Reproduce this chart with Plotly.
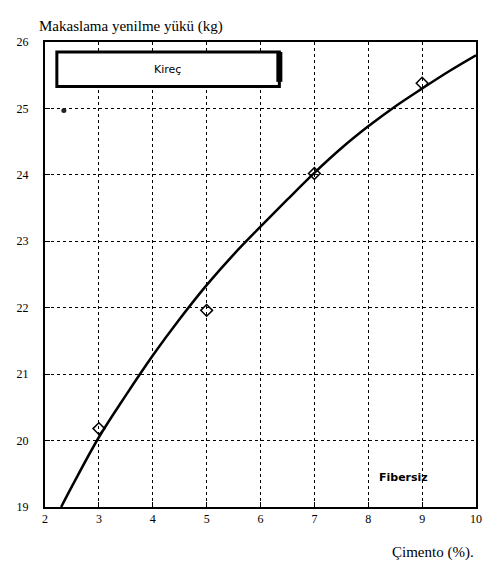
import plotly.graph_objects as go

# data
curve_x = [2.3, 2.5, 3, 3.5, 4, 4.5, 5, 5.5, 6, 6.5, 7, 7.5, 8, 8.5, 9, 9.5, 10]
curve_y = [19.0, 19.31, 20.05, 20.68, 21.28, 21.83, 22.34, 22.8, 23.22, 23.63, 24.03, 24.4, 24.73, 25.03, 25.3, 25.56, 25.8]
pts_x = [3, 5, 7, 9]
pts_y = [20.18, 21.96, 24.02, 25.38]
x_ticks = [2, 3, 4, 5, 6, 7, 8, 9, 10]
y_ticks = [19, 20, 21, 22, 23, 24, 25, 26]
legend_label = "Kireç"
series_note = "Fibersiz"

fig = go.Figure()
fig.add_trace(go.Scatter(x=curve_x, y=curve_y, mode="lines", line_shape="spline",
                         line=dict(color="black", width=2.5), showlegend=False))
fig.add_trace(go.Scatter(x=pts_x, y=pts_y, mode="markers",
                         marker=dict(symbol="diamond-open", size=9, color="black",
                                     line=dict(width=1.5, color="black")),
                         showlegend=False))
fig.add_trace(go.Scatter(x=[2.35], y=[24.97], mode="markers",
                         marker=dict(symbol="circle", size=5, color="#222"),
                         showlegend=False))

# legend box
fig.add_shape(type="rect", xref="x", yref="y", x0=2.22, x1=6.35, y0=25.33, y1=25.85,
              line=dict(color="black", width=3), fillcolor="white", layer="above")
fig.add_shape(type="line", xref="x", yref="y", x0=6.35, x1=6.35, y0=25.4, y1=25.85,
              line=dict(color="black", width=6), layer="above")
fig.add_annotation(x=4.28, y=25.59, xref="x", yref="y", text=legend_label, showarrow=False,
                   font=dict(family="DejaVu Sans", size=11, color="black"))
fig.add_annotation(x=8.65, y=19.45, xref="x", yref="y", text="<b>" + series_note + "</b>",
                   showarrow=False, font=dict(family="DejaVu Sans", size=11, color="black"))

axis_common = dict(showline=True, linecolor="black", linewidth=2, mirror=True,
                   showgrid=True, gridcolor="black", griddash="dot", gridwidth=1,
                   ticks="inside", ticklen=5, tickcolor="black", zeroline=False,
                   tickfont=dict(family="Liberation Serif", size=12, color="black"))
fig.update_xaxes(range=[2, 10], tickvals=x_ticks, **axis_common)
fig.update_yaxes(range=[19, 26], tickvals=y_ticks, ticklabelstandoff=12, **axis_common)

fig.add_annotation(x=-0.018, y=1.01, xref="paper", yref="paper", yanchor="bottom",
                   xanchor="left", showarrow=False, text="Makaslama yenilme yükü (kg)",
                   font=dict(family="Liberation Serif", size=15, color="black"))
fig.add_annotation(x=1.0, y=-0.075, xref="paper", yref="paper", yanchor="top",
                   xanchor="right", showarrow=False, text="Çimento (%).",
                   font=dict(family="Liberation Serif", size=15, color="black"))

fig.update_layout(width=488, height=565, margin=dict(l=45, r=6, t=42, b=58),
                  plot_bgcolor="white", paper_bgcolor="white")
fig.write_html("out.html")
